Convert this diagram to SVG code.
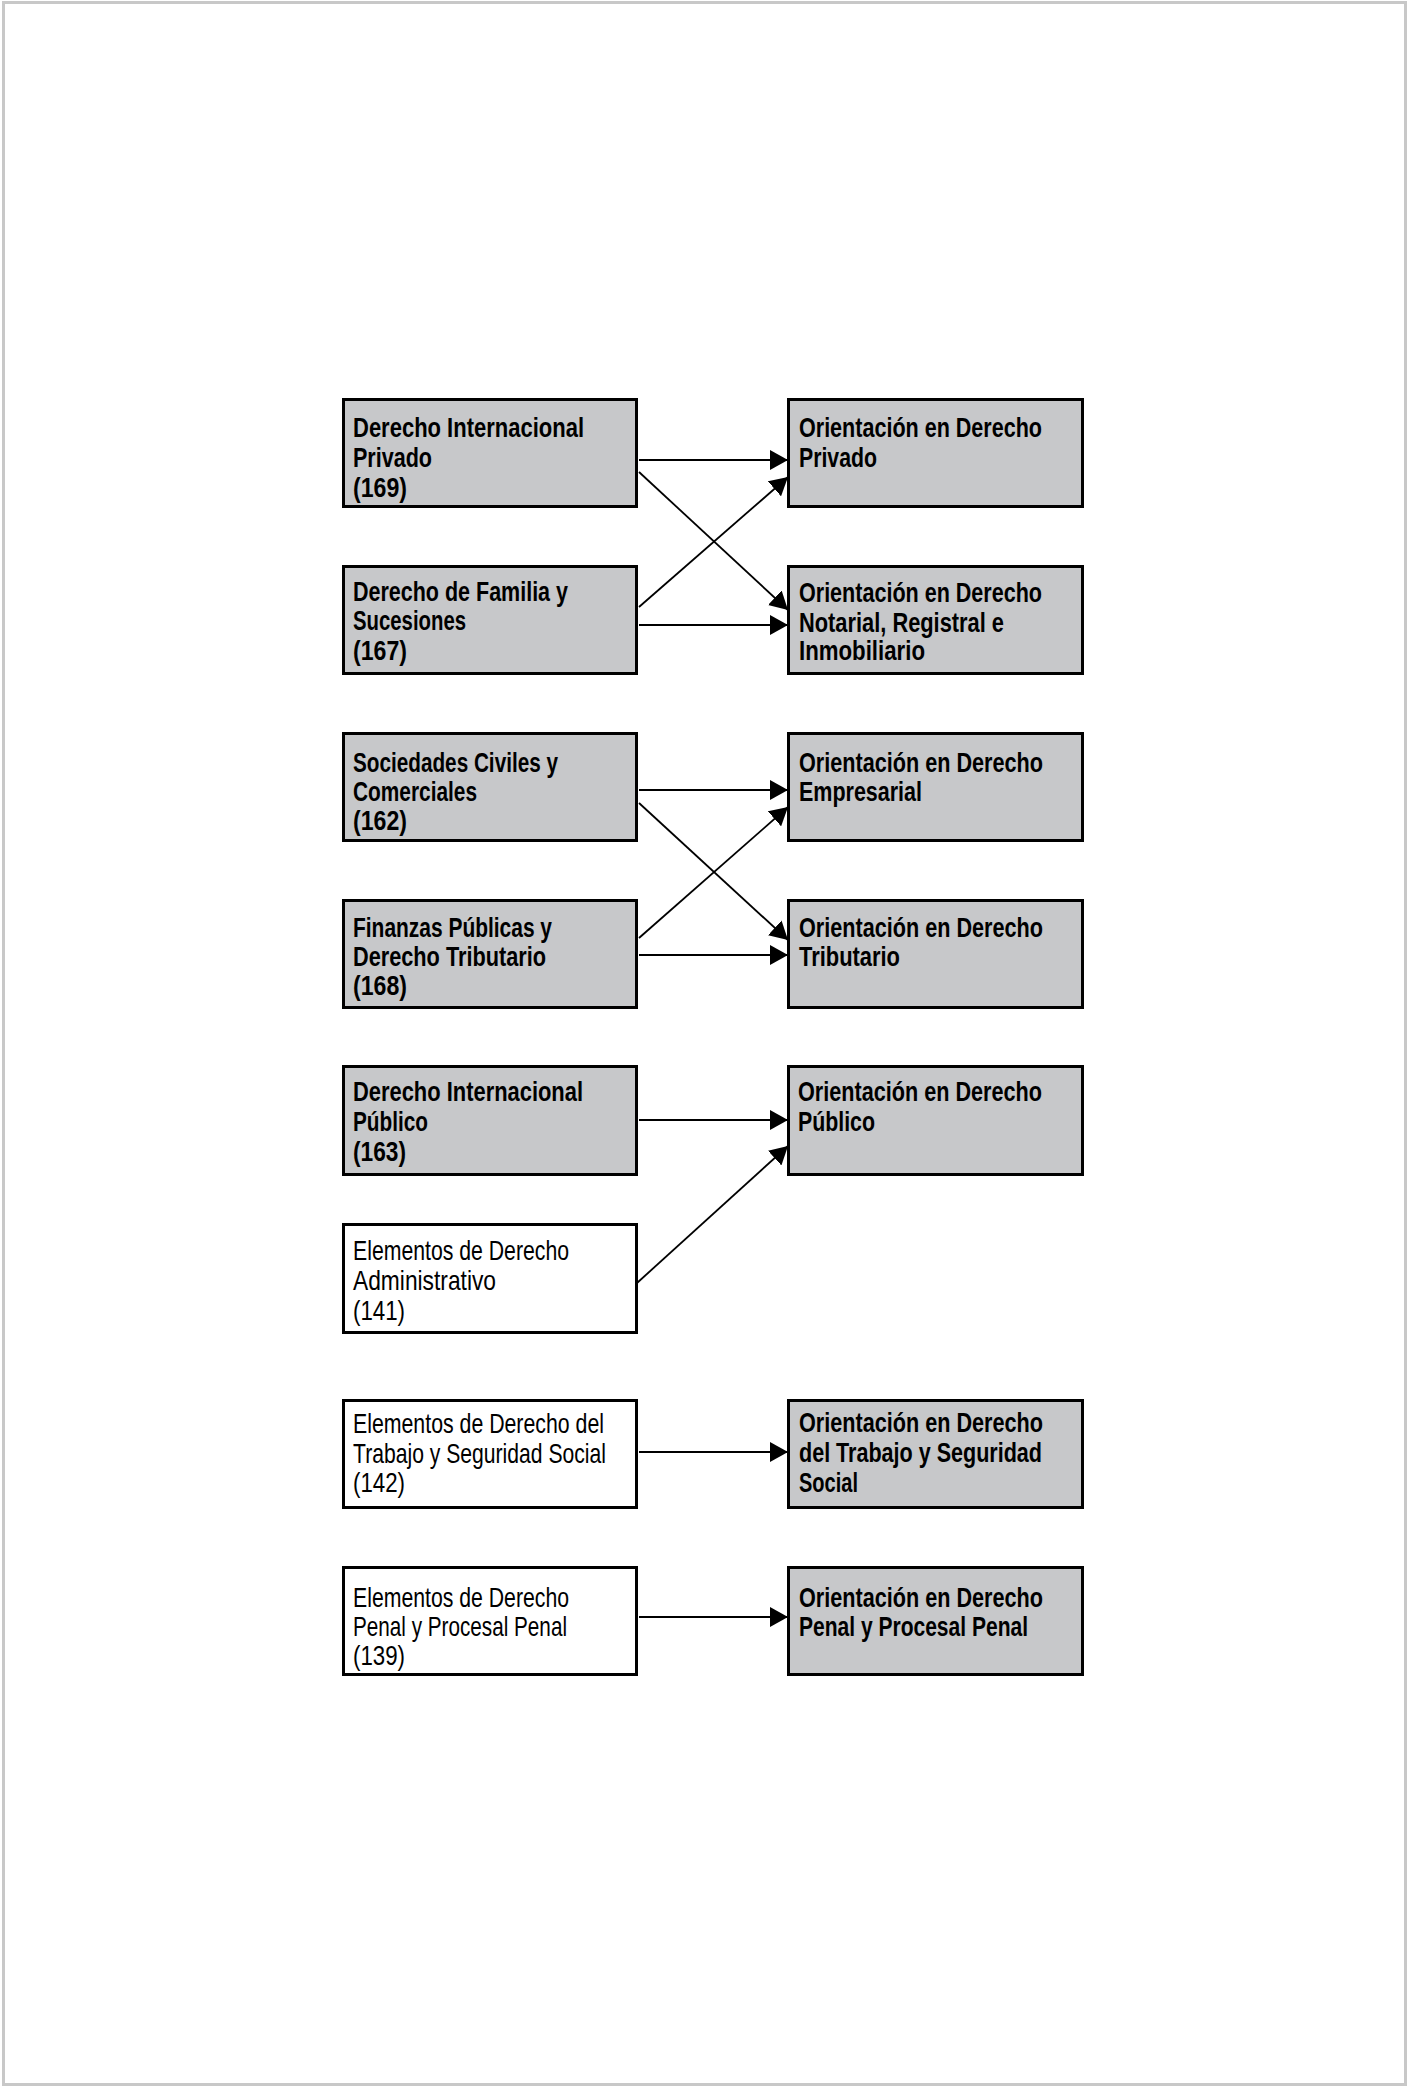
<svg xmlns="http://www.w3.org/2000/svg" width="1410" height="2088" viewBox="0 0 1410 2088">
<style>
.bx{stroke:#000;stroke-width:3}
.g{fill:#c7c8ca}
.w{fill:#fff}
.t{font-family:"Liberation Sans",Arial,sans-serif;font-size:28px;fill:#000}
.b{font-weight:bold}
.c line{stroke:#000;stroke-width:1.8;marker-end:url(#ah)}
</style>
<defs>
<marker id="ah" markerUnits="userSpaceOnUse" markerWidth="18" markerHeight="20" refX="18" refY="10" orient="auto" viewBox="0 0 18 20">
<path d="M0,0 L18,10 L0,20 z" fill="#000"/>
</marker>
</defs>
<rect x="0" y="0" width="1410" height="2088" fill="#fff"/>
<rect x="3.5" y="2.5" width="1402" height="2082" fill="none" stroke="#c8c8c8" stroke-width="3"/>

<g id="n1"><rect class="bx g" x="343.5" y="399.5" width="293" height="107"/>
<text class="t b"><tspan x="353" y="437" textLength="231" lengthAdjust="spacingAndGlyphs">Derecho Internacional</tspan><tspan x="353" y="467" textLength="79" lengthAdjust="spacingAndGlyphs">Privado</tspan><tspan x="353" y="497" textLength="54" lengthAdjust="spacingAndGlyphs">(169)</tspan></text></g>
<g id="n2"><rect class="bx g" x="343.5" y="566.5" width="293" height="107"/>
<text class="t b"><tspan x="353" y="601" textLength="215" lengthAdjust="spacingAndGlyphs">Derecho de Familia y</tspan><tspan x="353" y="630" textLength="113" lengthAdjust="spacingAndGlyphs">Sucesiones</tspan><tspan x="353" y="660" textLength="54" lengthAdjust="spacingAndGlyphs">(167)</tspan></text></g>
<g id="n3"><rect class="bx g" x="343.5" y="733.5" width="293" height="107"/>
<text class="t b"><tspan x="353" y="772" textLength="205" lengthAdjust="spacingAndGlyphs">Sociedades Civiles y</tspan><tspan x="353" y="801" textLength="124" lengthAdjust="spacingAndGlyphs">Comerciales</tspan><tspan x="353" y="830" textLength="54" lengthAdjust="spacingAndGlyphs">(162)</tspan></text></g>
<g id="n4"><rect class="bx g" x="343.5" y="900.5" width="293" height="107"/>
<text class="t b"><tspan x="353" y="937" textLength="199" lengthAdjust="spacingAndGlyphs">Finanzas Públicas y</tspan><tspan x="353" y="966" textLength="193" lengthAdjust="spacingAndGlyphs">Derecho Tributario</tspan><tspan x="353" y="995" textLength="54" lengthAdjust="spacingAndGlyphs">(168)</tspan></text></g>
<g id="n5"><rect class="bx g" x="343.5" y="1066.5" width="293" height="108"/>
<text class="t b"><tspan x="353" y="1101" textLength="230" lengthAdjust="spacingAndGlyphs">Derecho Internacional</tspan><tspan x="353" y="1131" textLength="75" lengthAdjust="spacingAndGlyphs">Público</tspan><tspan x="353" y="1161" textLength="53" lengthAdjust="spacingAndGlyphs">(163)</tspan></text></g>
<g id="n6"><rect class="bx w" x="343.5" y="1224.5" width="293" height="108"/>
<text class="t"><tspan x="353" y="1260" textLength="216" lengthAdjust="spacingAndGlyphs">Elementos de Derecho</tspan><tspan x="353" y="1290" textLength="143" lengthAdjust="spacingAndGlyphs">Administrativo</tspan><tspan x="353" y="1320" textLength="52" lengthAdjust="spacingAndGlyphs">(141)</tspan></text></g>
<g id="n7"><rect class="bx w" x="343.5" y="1400.5" width="293" height="107"/>
<text class="t"><tspan x="353" y="1433" textLength="251" lengthAdjust="spacingAndGlyphs">Elementos de Derecho del</tspan><tspan x="353" y="1463" textLength="253" lengthAdjust="spacingAndGlyphs">Trabajo y Seguridad Social</tspan><tspan x="353" y="1492" textLength="52" lengthAdjust="spacingAndGlyphs">(142)</tspan></text></g>
<g id="n8"><rect class="bx w" x="343.5" y="1567.5" width="293" height="107"/>
<text class="t"><tspan x="353" y="1607" textLength="216" lengthAdjust="spacingAndGlyphs">Elementos de Derecho</tspan><tspan x="353" y="1636" textLength="214" lengthAdjust="spacingAndGlyphs">Penal y Procesal Penal</tspan><tspan x="353" y="1665" textLength="52" lengthAdjust="spacingAndGlyphs">(139)</tspan></text></g>

<g id="o1"><rect class="bx g" x="788.5" y="399.5" width="294" height="107"/>
<text class="t b"><tspan x="799" y="437" textLength="243" lengthAdjust="spacingAndGlyphs">Orientación en Derecho</tspan><tspan x="799" y="467" textLength="78" lengthAdjust="spacingAndGlyphs">Privado</tspan></text></g>
<g id="o2"><rect class="bx g" x="788.5" y="566.5" width="294" height="107"/>
<text class="t b"><tspan x="799" y="602" textLength="243" lengthAdjust="spacingAndGlyphs">Orientación en Derecho</tspan><tspan x="799" y="632" textLength="205" lengthAdjust="spacingAndGlyphs">Notarial, Registral e</tspan><tspan x="799" y="660" textLength="126" lengthAdjust="spacingAndGlyphs">Inmobiliario</tspan></text></g>
<g id="o3"><rect class="bx g" x="788.5" y="733.5" width="294" height="107"/>
<text class="t b"><tspan x="799" y="772" textLength="244" lengthAdjust="spacingAndGlyphs">Orientación en Derecho</tspan><tspan x="799" y="801" textLength="123" lengthAdjust="spacingAndGlyphs">Empresarial</tspan></text></g>
<g id="o4"><rect class="bx g" x="788.5" y="900.5" width="294" height="107"/>
<text class="t b"><tspan x="799" y="937" textLength="244" lengthAdjust="spacingAndGlyphs">Orientación en Derecho</tspan><tspan x="799" y="966" textLength="101" lengthAdjust="spacingAndGlyphs">Tributario</tspan></text></g>
<g id="o5"><rect class="bx g" x="788.5" y="1066.5" width="294" height="108"/>
<text class="t b"><tspan x="798" y="1101" textLength="244" lengthAdjust="spacingAndGlyphs">Orientación en Derecho</tspan><tspan x="798" y="1131" textLength="77" lengthAdjust="spacingAndGlyphs">Público</tspan></text></g>
<g id="o6"><rect class="bx g" x="788.5" y="1400.5" width="294" height="107"/>
<text class="t b"><tspan x="799" y="1432" textLength="244" lengthAdjust="spacingAndGlyphs">Orientación en Derecho</tspan><tspan x="799" y="1462" textLength="243" lengthAdjust="spacingAndGlyphs">del Trabajo y Seguridad</tspan><tspan x="799" y="1492" textLength="59" lengthAdjust="spacingAndGlyphs">Social</tspan></text></g>
<g id="o7"><rect class="bx g" x="788.5" y="1567.5" width="294" height="107"/>
<text class="t b"><tspan x="799" y="1607" textLength="244" lengthAdjust="spacingAndGlyphs">Orientación en Derecho</tspan><tspan x="799" y="1636" textLength="229" lengthAdjust="spacingAndGlyphs">Penal y Procesal Penal</tspan></text></g>

<g id="connectors" class="c">
<line x1="639" y1="460" x2="788" y2="460"/>
<line x1="639" y1="472" x2="788" y2="610"/>
<line x1="639" y1="607" x2="788" y2="477"/>
<line x1="639" y1="625" x2="788" y2="625"/>
<line x1="639" y1="790" x2="788" y2="790"/>
<line x1="639" y1="803" x2="788" y2="940"/>
<line x1="639" y1="938" x2="788" y2="807"/>
<line x1="639" y1="955" x2="788" y2="955"/>
<line x1="639" y1="1120" x2="788" y2="1120"/>
<line x1="637" y1="1283" x2="788" y2="1146"/>
<line x1="639" y1="1452" x2="788" y2="1452"/>
<line x1="639" y1="1617" x2="788" y2="1617"/>
</g>
</svg>
